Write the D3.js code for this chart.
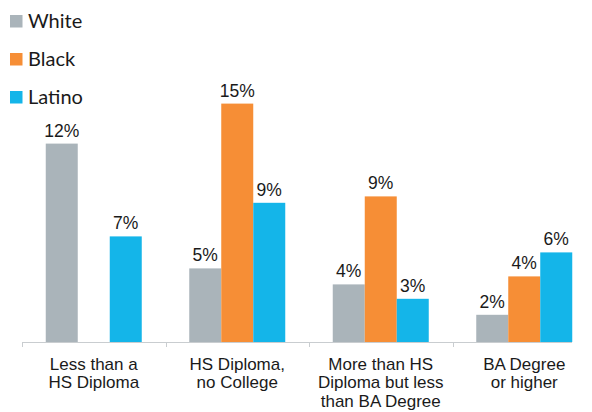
<!DOCTYPE html>
<html>
<head>
<meta charset="utf-8">
<script src="https://cdn.jsdelivr.net/npm/d3@7"></script>
<style>
  html, body { margin: 0; padding: 0; background: #fff; }
  svg { display: block; }
</style>
</head>
<body>
<svg id="chart" width="592" height="412"></svg>
<script>
// Unemployment-style rates by education level and group (percent)
const categories = [
  ["Less than a", "HS Diploma"],
  ["HS Diploma,", "no College"],
  ["More than HS", "Diploma but less", "than BA Degree"],
  ["BA Degree", "or higher"]
];
const seriesNames = ["White", "Black", "Latino"];
const white  = [12.4, 4.6, 3.6, 1.7];
const black  = [null, 14.9, 9.1, 4.1];
const latino = [6.6, 8.7, 2.7, 5.6];
const colors = ["#AAB4BA", "#F68E36", "#14B5E9"];

const seriesValues = [white, black, latino];

const svg = d3.select("#chart");
const baseY = 342;

const x = d3.scaleBand()
  .domain(d3.range(categories.length))
  .range([22, 596]);

const groupWidth = 96;
const xs = d3.scaleBand()
  .domain(seriesNames)
  .range([0, groupWidth]);

const y = d3.scaleLinear().domain([0, 16]).range([baseY, 86]);

// bars
seriesNames.forEach((name, si) => {
  const vals = seriesValues[si];
  const g = svg.append("g");
  const rows = vals.map((v, i) => ({ i, v })).filter(d => d.v != null);
  g.selectAll("rect").data(rows).enter().append("rect")
    .attr("x", d => x(d.i) + (x.bandwidth() - groupWidth) / 2 + xs(name))
    .attr("width", xs.bandwidth())
    .attr("y", d => y(d.v))
    .attr("height", d => baseY - y(d.v))
    .attr("fill", colors[si]);
  g.selectAll("text").data(rows).enter().append("text")
    .attr("x", d => x(d.i) + (x.bandwidth() - groupWidth) / 2 + xs(name) + xs.bandwidth() / 2)
    .attr("y", d => y(d.v) - 7)
    .attr("text-anchor", "middle")
    .attr("font-family", "Liberation Sans, Arial, sans-serif")
    .attr("font-size", 17.5)
    .attr("fill", "#1a1a1a")
    .text(d => d3.format(".0f")(d.v) + "%");
});

// x axis line and tick marks at category boundaries
svg.append("line")
  .attr("x1", 22).attr("x2", 572)
  .attr("y1", baseY + 0.5).attr("y2", baseY + 0.5)
  .attr("stroke", "#c9cdd0").attr("stroke-width", 1);
d3.range(categories.length).forEach(i => {
  const tx = Math.round(x(i)) + 0.5;
  svg.append("line")
    .attr("x1", tx).attr("x2", tx)
    .attr("y1", baseY).attr("y2", baseY + 5)
    .attr("stroke", "#c9cdd0");
});

// category labels
categories.forEach((lines, i) => {
  const t = svg.append("text")
    .attr("text-anchor", "middle")
    .attr("font-family", "Liberation Sans, Arial, sans-serif")
    .attr("font-size", 17)
    .attr("fill", "#1a1a1a");
  lines.forEach((ln, j) => {
    t.append("tspan")
      .attr("x", x(i) + x.bandwidth() / 2)
      .attr("y", 370 + j * 18.3)
      .text(ln);
  });
});

// legend
const legend = svg.append("g");
seriesNames.forEach((name, i) => {
  legend.append("rect")
    .attr("x", 10).attr("y", 15 + i * 38)
    .attr("width", 12.5).attr("height", 12.5)
    .attr("fill", colors[i]);
  legend.append("text")
    .attr("x", 28).attr("y", 28 + i * 38)
    .attr("font-family", "Lato, sans-serif")
    .attr("font-size", 20)
    .attr("fill", "#1a1a1a")
    .text(name);
});
</script>
</body>
</html>
